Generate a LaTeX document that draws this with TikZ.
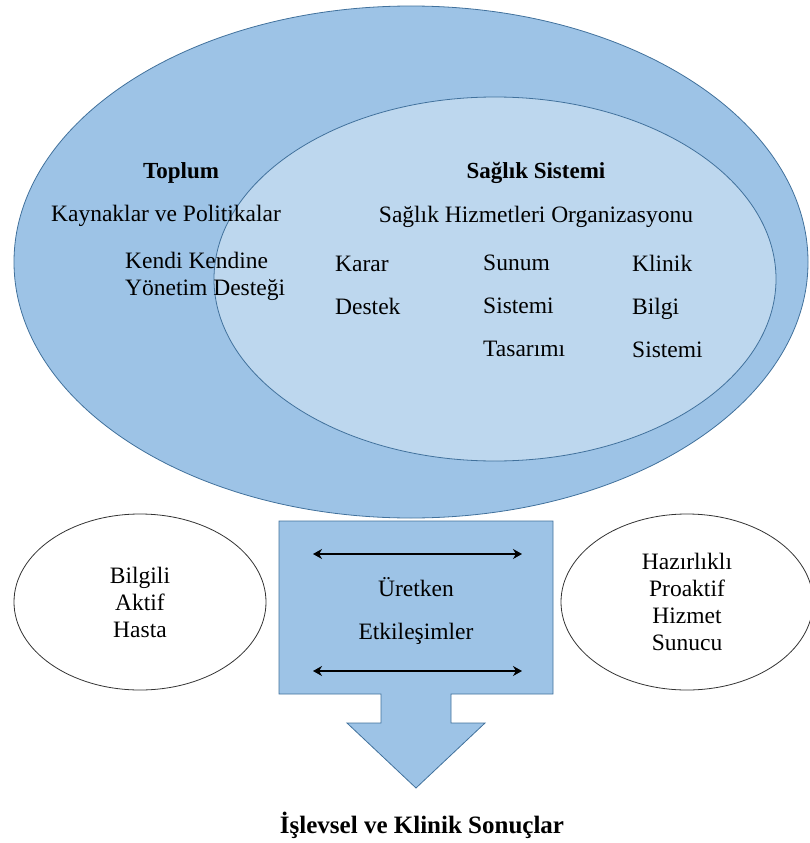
\documentclass[tikz,border=0pt]{standalone}
\usepackage{fontspec}
\setmainfont{Liberation Serif}
\usetikzlibrary{arrows.meta, shapes.geometric}

\definecolor{outerblue}{RGB}{157,195,230}
\definecolor{innerblue}{RGB}{189,215,238}
\definecolor{edgeblue}{RGB}{65,113,156}

\begin{document}
\begin{tikzpicture}[
    x=1pt, y=-1pt,
    >=Stealth,
    font=\fontsize{23.5}{27}\selectfont,
    zone/.style={draw=edgeblue, ellipse, inner sep=0pt, line width=0.8pt},
    actor/.style={draw=black!80, ellipse, inner sep=0pt, line width=0.8pt,
                  minimum width=252pt, minimum height=176pt, align=center},
    txt/.style={align=left, inner sep=0pt},
    heading/.style={font=\fontsize{23}{27}\selectfont\bfseries, inner sep=0pt},
    link/.style={<->, line width=1.3pt, >={Stealth[length=9pt,width=10pt]}}
  ]
  \useasboundingbox (0,0) rectangle (809,843);

  % nested systems
  \node[zone, fill=outerblue, minimum width=794pt, minimum height=512pt]
    (society) at (411,262) {};
  \node[zone, fill=innerblue, minimum width=562pt, minimum height=364pt]
    (health) at (495,279) {};

  \node[heading] (toplum) at (181,173) {Toplum};
  \node[txt] (resources) at (166,216) {Kaynaklar ve Politikalar};
  \node[txt, anchor=west] (selfmgmt) at (125,276) {Kendi Kendine\\Yönetim Desteği};

  \node[heading] (saglik) at (536,173) {Sağlık Sistemi};
  \node[txt] (org) at (536,217) {Sağlık Hizmetleri Organizasyonu};
  \node[txt, anchor=west] (karar) at (335,285) {Karar\\[16pt]Destek};
  \node[txt, anchor=west] (sunum) at (483,306) {Sunum\\[16pt]Sistemi\\[16pt]Tasarımı};
  \node[txt, anchor=west] (klinik) at (632,306) {Klinik\\[16pt]Bilgi\\[16pt]Sistemi};

  % interaction box and outcome arrow
  \draw[edgeblue, fill=outerblue, line width=0.8pt]
    (279,521) -- (553,521) -- (553,694) -- (451,694) -- (451,723)
    -- (485,723) -- (416,788) -- (347,723) -- (381,723) -- (381,694)
    -- (279,694) -- cycle;
  \coordinate (topL) at (313,554);
  \coordinate (topR) at (522,554);
  \coordinate (botL) at (313,671);
  \coordinate (botR) at (522,671);
  \draw[link] (topL) -- (topR);
  \draw[link] (botL) -- (botR);
  \node[txt, align=center] (uretken) at (416,611) {Üretken\\[16pt]Etkileşimler};

  % patient and provider
  \node[actor] (hasta) at (140,602) {Bilgili\\Aktif\\Hasta};
  \node[actor] (sunucu) at (687,602) {Hazırlıklı\\Proaktif\\Hizmet\\Sunucu};

  \node[heading, font=\fontsize{25}{27}\selectfont\bfseries] (sonuc) at (422,825)
    {İşlevsel ve Klinik Sonuçlar};
\end{tikzpicture}
\end{document}
